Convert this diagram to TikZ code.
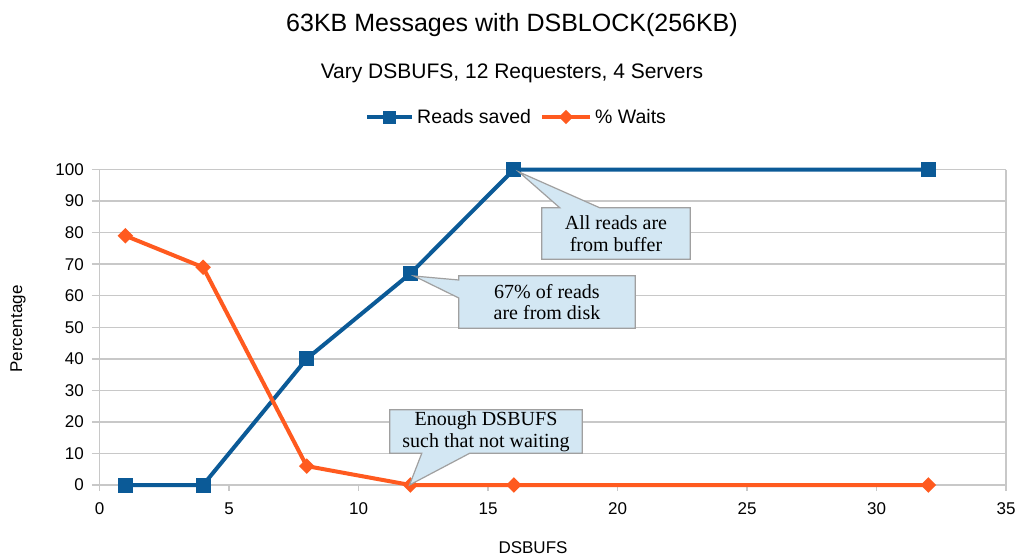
\documentclass[tikz,border=0pt]{standalone}
\usepackage{fontspec}
\setmainfont{Liberation Sans}
\newfontfamily\serifcall{Liberation Serif}
\usetikzlibrary{calc}
\definecolor{rblue}{HTML}{0B5A97}
\definecolor{worange}{HTML}{FF5A1F}
\definecolor{gridc}{HTML}{C8C8C8}
\definecolor{callfill}{HTML}{D3E7F3}
\definecolor{calldraw}{HTML}{A0A0A0}
\tikzset{
  gridline/.style={draw=gridc, line width=1.5pt},
  ticklab/.style={font=\fontsize{17}{20}\selectfont, inner sep=0pt},
  axtitle/.style={font=\fontsize{17}{20}\selectfont, inner sep=0pt},
  blueline/.style={draw=rblue, line width=4pt, line join=round},
  orangeline/.style={draw=worange, line width=4pt, line join=round},
  sqmark/.style={fill=rblue, draw=none, minimum size=15pt, inner sep=0pt, shape=rectangle},
  dimark/.style={fill=worange, draw=none, minimum size=11pt, inner sep=0pt, shape=rectangle, rotate=45},
  callshape/.style={draw=none, inner sep=0pt},
  callout/.style={fill=callfill, draw=calldraw, line width=1.2pt, line join=miter},
  calltext/.style={font=\serifcall\fontsize{20}{21.5}\selectfont, align=center, inner sep=0pt},
}
\begin{document}
\begin{tikzpicture}[x=1pt, y=-1pt]
\useasboundingbox[fill=white] (0,0) rectangle (1023,558);

% titles
\node[font=\fontsize{25}{30}\selectfont, inner sep=0pt] (title) at (512,25) {63KB Messages with DSBLOCK(256KB)};
\node[font=\fontsize{21}{25}\selectfont, inner sep=0pt] (subtitle) at (512,73) {Vary DSBUFS, 12 Requesters, 4 Servers};

% legend
\coordinate (lgA1) at (367,117);
\coordinate (lgA2) at (412,117);
\draw[blueline] (lgA1) -- (lgA2);
\node[sqmark, minimum size=13pt] (lgAm) at (389.5,117) {};
\node[font=\fontsize{19.5}{23}\selectfont, inner sep=0pt, anchor=west] (lgAt) at (417,117) {Reads saved};
\coordinate (lgB1) at (542,117);
\coordinate (lgB2) at (590,117);
\draw[orangeline] (lgB1) -- (lgB2);
\node[dimark, minimum size=10pt] (lgBm) at (566,117) {};
\node[font=\fontsize{19.5}{23}\selectfont, inner sep=0pt, anchor=west] (lgBt) at (595,117) {\% Waits};

% plot
\begin{scope}[shift={(99.5,485)}, x=25.9pt, y=3.155pt]
  \foreach \v in {0,10,...,100} {
    \draw[gridline] (-0.29,\v) -- (35,\v);
    \node[ticklab, anchor=east] (yl\v) at (-0.6,\v) {\v};
  }
  \draw[gridline] (0,100) -- (0,-1.9);
  \draw[gridline] (35,100) -- (35,-1.9);
  \foreach \d in {5,10,...,30} {\draw[gridline] (\d,0) -- (\d,-1.9);}
  \foreach \d in {0,5,...,35} {\node[ticklab] (xl\d) at (\d,-7.6) {\d};}

  % Reads saved
  \coordinate (r1) at (1,0);
  \coordinate (r2) at (4,0);
  \coordinate (r3) at (8,40);
  \coordinate (r4) at (12,67);
  \coordinate (r5) at (16,100);
  \coordinate (r6) at (32,100);
  \draw[blueline] (r1) -- (r2) -- (r3) -- (r4) -- (r5) -- (r6);
  \foreach \i in {1,...,6} {\node[sqmark] (rm\i) at (r\i) {};}

  % % Waits
  \coordinate (w1) at (1,79);
  \coordinate (w2) at (4,69);
  \coordinate (w3) at (8,6);
  \coordinate (w4) at (12,0);
  \coordinate (w5) at (16,0);
  \coordinate (w6) at (32,0);
  \draw[orangeline] (w1) -- (w2) -- (w3) -- (w4) -- (w5) -- (w6);
  \foreach \i in {1,...,6} {\node[dimark] (wm\i) at (w\i) {};}
\end{scope}

% axis titles
\node[axtitle] (xtitle) at (533,548) {DSBUFS};
\node[axtitle, rotate=90] (ytitle) at (18,329) {Percentage};

% callout 1
\node[callshape, minimum width=148pt, minimum height=51pt] (c1) at (616,233.5) {};
\coordinate (t1) at (519,172);
\draw[callout] (c1.north west) -- ([xshift=18pt]c1.north west) -- (t1) -- ([xshift=58pt]c1.north west)
  -- (c1.north east) -- (c1.south east) -- (c1.south west) -- cycle;
\node[calltext] (c1t) at (c1.center) {All reads are\\from buffer};

% callout 2
\node[callshape, minimum width=176pt, minimum height=52pt] (c2) at (547,302) {};
\coordinate (t2) at (414,276);
\draw[callout] (c2.north west) -- (c2.north east) -- (c2.south east) -- (c2.south west)
  -- ([yshift=4pt]c2.west) -- (t2) -- ([yshift=22pt]c2.west) -- cycle;
\node[calltext] (c2t) at (c2.center) {67\% of reads\\are from disk};

% callout 3
\node[callshape, minimum width=192pt, minimum height=43pt] (c3) at (486,431.5) {};
\coordinate (t3) at (409.5,485);
\draw[callout] (c3.north west) -- (c3.north east) -- (c3.south east)
  -- ([xshift=80pt]c3.south west) -- (t3) -- ([xshift=32pt]c3.south west) -- (c3.south west) -- cycle;
\node[calltext] (c3t) at (c3.center) {Enough DSBUFS\\such that not waiting};
\end{tikzpicture}
\end{document}
